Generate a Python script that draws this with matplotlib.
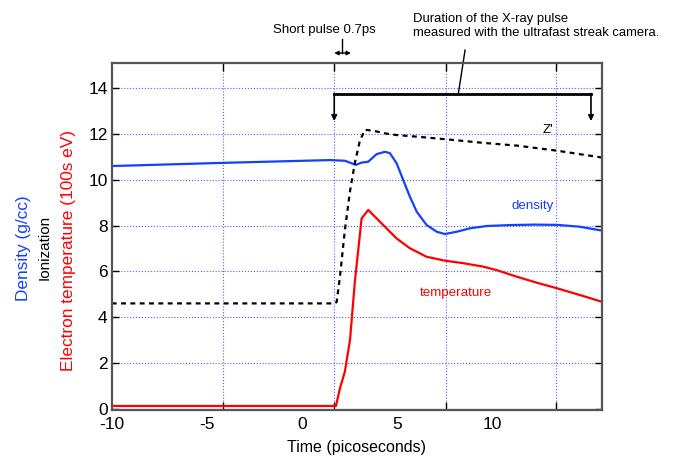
import matplotlib
matplotlib.use("Agg")
import matplotlib.pyplot as plt

plt.rcParams['font.family'] = ['Liberation Sans', 'DejaVu Sans']

# --- data (time in ps) ---
dens_t = [-10, -4.13, 1.48, 2.27, 2.84, 3.14, 3.49, 3.93, 4.37, 4.63, 4.98, 5.33,
          5.68, 6.04, 6.56, 7.09, 7.52, 8.14, 8.84, 9.72, 10.94, 12.2, 13.41, 14.6, 15.78]
dens_v = [10.59, 10.73, 10.85, 10.82, 10.64, 10.74, 10.78, 11.11, 11.21, 11.15, 10.71, 9.98,
          9.25, 8.6, 8.02, 7.73, 7.63, 7.73, 7.88, 7.98, 8.02, 8.04, 8.03, 7.95, 7.78]

ion_t = [-10, 1.75, 1.83, 2.0, 2.26, 2.53, 2.79, 3.05, 3.32, 3.74, 4.46, 4.98,
         6.04, 7.79, 9.52, 11.31, 13.41, 15.78]
ion_v = [4.61, 4.61, 4.68, 5.77, 7.8, 9.5, 10.75, 11.7, 12.17, 12.13, 12.0, 11.94,
         11.87, 11.74, 11.6, 11.48, 11.26, 10.96]

temp_t = [-10, 1.79, 2.0, 2.26, 2.53, 2.79, 3.14, 3.49, 4.28, 4.98, 5.68, 6.56,
          7.52, 8.49, 9.54, 10.24, 11.31, 12.4, 13.41, 14.6, 15.78]
temp_v = [0.144, 0.144, 0.91, 1.64, 3.02, 5.6, 8.31, 8.68, 8.02, 7.44, 7.01, 6.64,
          6.47, 6.36, 6.21, 6.06, 5.77, 5.5, 5.27, 4.98, 4.68]

x_labels = ['-10', '-5', '0', '5', '10']
x_label_pos = [-10, -5, 0, 5, 10]
grid_x = [-10, -4.13, 1.70, 7.56, 13.36]
y_ticks = [0, 2, 4, 6, 8, 10, 12, 14]

blue = '#1440ff'
red = '#ff0000'

fig = plt.figure(figsize=(6.73, 4.59), dpi=100)
ax = fig.add_axes([0.166, 0.1068, 0.7285, 0.7566])

ax.plot(dens_t, dens_v, color=blue, lw=1.6)
ax.plot(temp_t, temp_v, color=red, lw=1.6)
ax.plot(ion_t, ion_v, color='black', lw=1.6, linestyle=(0, (2.2, 2.0)))

ax.set_xlim(-10, 15.78)
ax.set_ylim(-0.03, 15.09)

# labels sit on major ticks (no marks), grid + marks on minor ticks
ax.set_xticks(x_label_pos)
ax.set_xticklabels(x_labels)
ax.set_xticks(grid_x, minor=True)
ax.set_yticks(y_ticks)
ax.tick_params(axis='x', which='major', length=0, labelsize=12.5, pad=5)
ax.tick_params(axis='x', which='minor', direction='in', length=6, width=1,
               top=True, bottom=True)
ax.tick_params(axis='y', direction='in', length=5, width=1, labelsize=12.5,
               left=True, right=True, pad=3)
ax.grid(False)
ax.xaxis.grid(True, which='minor', color='#5a5aff', linestyle=':', lw=0.8)
ax.yaxis.grid(True, which='major', color='#5a5aff', linestyle=':', lw=0.8)
for s in ax.spines.values():
    s.set_color('#555555')
    s.set_linewidth(1.6)

ax.set_xlabel('Time (picoseconds)', fontsize=11.5, labelpad=6)

# stacked coloured y labels
fig.text(0.035, 0.46, 'Density (g/cc)', color=blue, rotation=90,
         ha='center', va='center', fontsize=12.4)
fig.text(0.067, 0.46, 'Ionization', color='black', rotation=90,
         ha='center', va='center', fontsize=11)
fig.text(0.102, 0.455, 'Electron temperature (100s eV)', color=red, rotation=90,
         ha='center', va='center', fontsize=12.4)

# curve labels
ax.text(12.15, 8.85, 'density', color=blue, fontsize=9.6, ha='center', va='center')
ax.text(8.10, 5.07, 'temperature', color=red, fontsize=9.6, ha='center', va='center')
ax.text(12.94, 12.15, "Z'", color='black', fontsize=9.6, ha='center', va='center')

# X-ray pulse duration bracket
bx0, bx1, by, btip = 1.70, 15.20, 13.71, 12.55
ax.plot([bx0, bx1], [by, by], color='black', lw=2)
for bx in (bx0, bx1):
    ax.annotate('', xy=(bx, btip), xytext=(bx, by + 0.04),
                arrowprops=dict(arrowstyle='-|>', color='black', lw=1.2,
                                mutation_scale=8, shrinkA=0, shrinkB=0))
ax.plot([8.22, 8.58], [by, 15.64], color='black', lw=1, clip_on=False)
fig.text(0.613, 0.943, 'Duration of the X-ray pulse\nmeasured with the ultrafast streak camera.',
         fontsize=9.4, ha='left', va='center', linespacing=1.2)

# short pulse marker
ax.annotate('', xy=(1.70, 15.51), xytext=(2.58, 15.51), annotation_clip=False,
            arrowprops=dict(arrowstyle='<|-|>', color='black', lw=1,
                            mutation_scale=6, shrinkA=0, shrinkB=0))
ax.plot([2.12, 2.12], [16.12, 15.51], color='black', lw=1, clip_on=False)
fig.text(0.4825, 0.9346, 'Short pulse 0.7ps', fontsize=9.5, ha='center', va='center')

fig.savefig('out.png', dpi=100)
